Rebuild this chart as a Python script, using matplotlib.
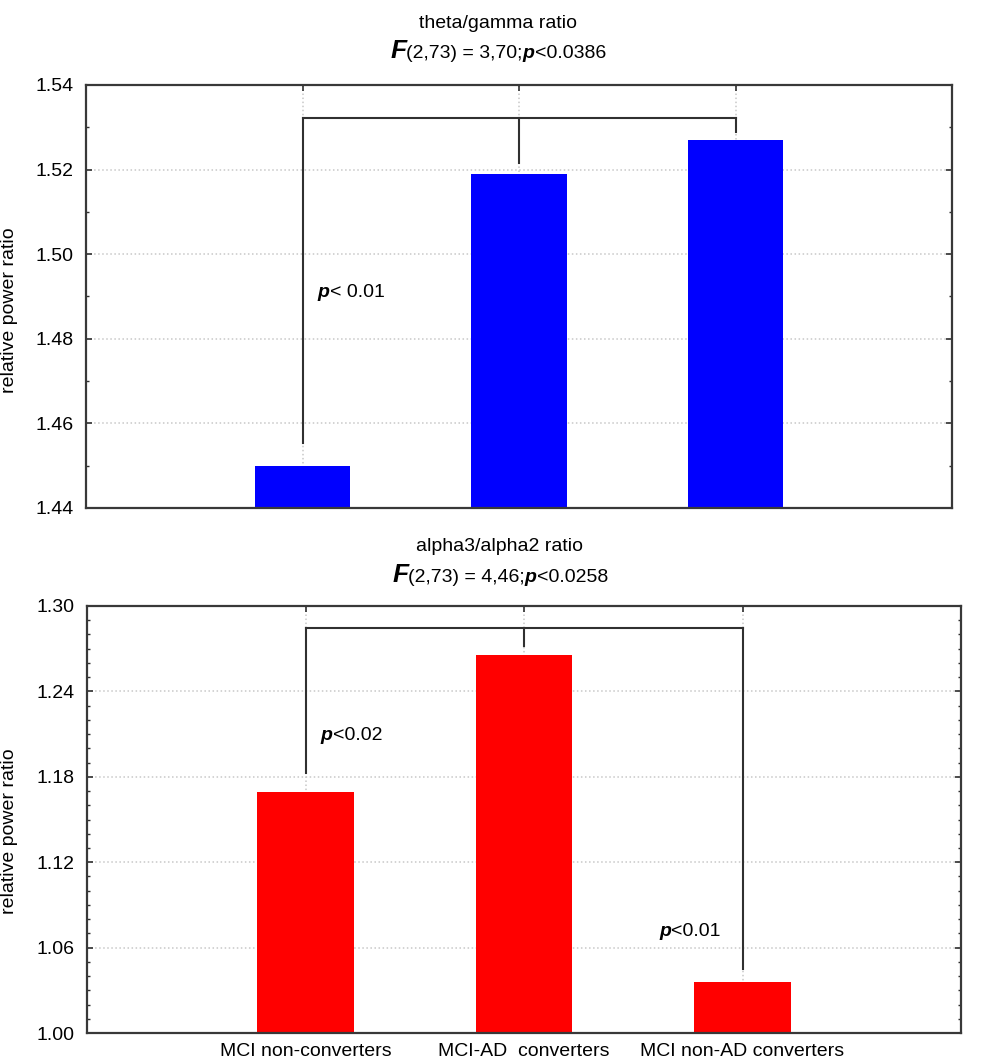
import matplotlib
matplotlib.use("Agg")
import matplotlib.pyplot as plt
from matplotlib.ticker import MultipleLocator

plt.rcParams['font.family'] = ['Liberation Sans', 'DejaVu Sans']

groups = ["MCI non-converters", "MCI-AD  converters", "MCI non-AD converters"]

# theta/gamma ratio (top)
theta_gamma = [1.450, 1.519, 1.527]
tg_ticks = [1.44, 1.46, 1.48, 1.50, 1.52, 1.54]
tg_bracket = 1.5323
tg_drops = [1.4553, 1.5215, 1.5289]

# alpha3/alpha2 ratio (bottom)
alpha_ratio = [1.169, 1.2654, 1.0357]
ar_ticks = [1.00, 1.06, 1.12, 1.18, 1.24, 1.30]
ar_bracket = 1.2843
ar_drops = [1.183, 1.2722, 1.0448]

W, H = 981, 1062
fig = plt.figure(figsize=(W / 100, H / 100), dpi=100)
ax1 = fig.add_axes([86 / W, 1 - 508 / H, (952 - 86) / W, (508 - 85) / H])
ax2 = fig.add_axes([87 / W, 1 - 1033 / H, (961 - 87) / W, (1033 - 606) / H])

BI = dict(fontsize=14, fontweight='bold', fontstyle='italic')
RG = dict(fontsize=14)


def rich_text(xf, yf, parts, center=False):
    # pieces with different styles, laid out one after the other on a baseline
    r = fig.canvas.get_renderer()
    texts = [fig.text(0, yf, s, va='baseline', ha='left', **kw) for s, kw in parts]
    widths = [t.get_window_extent(r).width for t in texts]
    x = xf * W - (sum(widths) / 2 if center else 0)
    for t, w in zip(texts, widths):
        t.set_x(x / W)
        x += w


def data_to_fig(ax, x, y):
    px = ax.transData.transform((x, y))
    return px[0] / W, px[1] / H


def style_axes(ax, ticks, ylabel_y):
    x = range(len(groups))
    ax.set_xlim(-1, 3)
    ax.set_ylim(ticks[0], ticks[-1])
    ax.set_yticks(ticks)
    ax.set_yticklabels(["%.2f" % t for t in ticks])
    ax.yaxis.set_minor_locator(MultipleLocator(0.01))
    ax.set_xticks(list(x))
    ax.tick_params(which='both', direction='in', top=True, right=True,
                   labelsize=14, color='#303030')
    ax.tick_params(which='major', length=4, width=1.2)
    ax.tick_params(which='minor', length=2.5, width=1)
    ax.tick_params(axis='y', pad=9)
    ax.grid(True, which='major', ls=':', color='#c8c8c8', lw=1.1)
    ax.set_axisbelow(True)
    for s in ax.spines.values():
        s.set_color('#383838')
        s.set_linewidth(1.6)
    ax.set_ylabel('relative power ratio', fontsize=14)
    ax.yaxis.set_label_coords(-0.079, ylabel_y)


def bracket(ax, top, drops):
    x = range(len(drops))
    ax.plot([0, len(drops) - 1], [top, top], color='#303030', lw=1.5)
    for xi, d in zip(x, drops):
        ax.plot([xi, xi], [top, d], color='#303030', lw=1.5)


# top panel
ax1.bar(range(3), theta_gamma, width=0.44, color='#0000ff')
style_axes(ax1, tg_ticks, 0.468)
ax1.set_xticklabels(['', '', ''])
bracket(ax1, tg_bracket, tg_drops)

# bottom panel
ax2.bar(range(3), alpha_ratio, width=0.44, color='#ff0000')
style_axes(ax2, ar_ticks, 0.473)
ax2.set_xticklabels(groups, fontsize=14)
ax2.tick_params(axis='x', pad=7)
bracket(ax2, ar_bracket, ar_drops)

# titles
fig.text(498 / W, 1 - 28 / H, 'theta/gamma ratio', ha='center', va='baseline', fontsize=14)
rich_text(498 / W, 1 - 58 / H,
          [('F', dict(fontsize=19, fontweight='bold', fontstyle='italic')),
           ('(2,73) = 3,70;', RG), ('p', BI), ('<0.0386', RG)], center=True)
fig.text(500 / W, 1 - 551 / H, 'alpha3/alpha2 ratio', ha='center', va='baseline', fontsize=14)
rich_text(500 / W, 1 - 582 / H,
          [('F', dict(fontsize=19, fontweight='bold', fontstyle='italic')),
           ('(2,73) = 4,46;', RG), ('p', BI), ('<0.0258', RG)], center=True)

# p-value labels
rich_text(*data_to_fig(ax1, 0.07, 1.4898), [('p', BI), ('< 0.01', RG)])
rich_text(*data_to_fig(ax2, 0.07, 1.2058), [('p', BI), ('<0.02', RG)])
rich_text(*data_to_fig(ax2, 1.62, 1.068), [('p', BI), ('<0.01', RG)])

fig.savefig('out.png', dpi=100)
